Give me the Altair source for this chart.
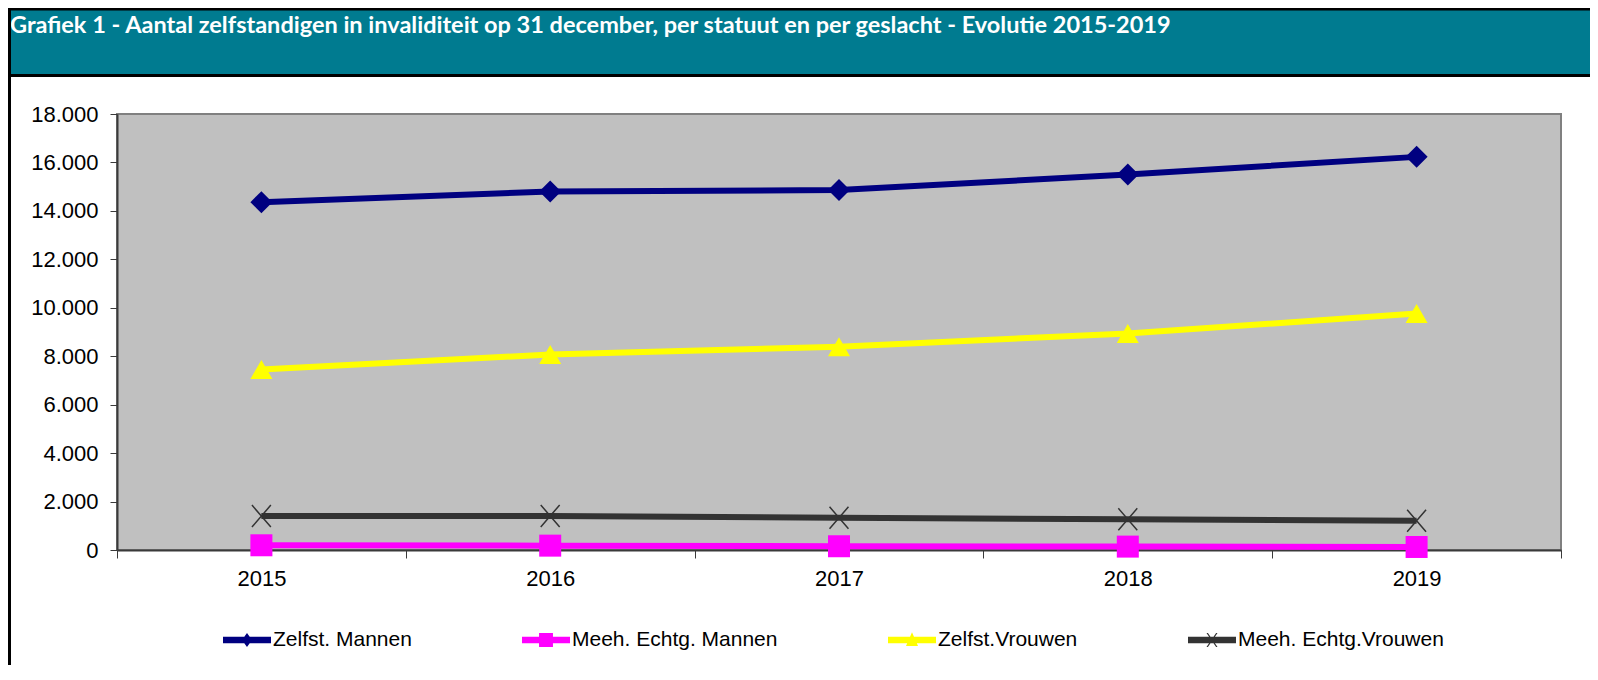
import altair as alt
import pandas as pd

TITLE = "Grafiek 1 - Aantal zelfstandigen in invaliditeit op 31 december, per statuut en per geslacht - Evolutie 2015-2019"
YEARS = ["2015", "2016", "2017", "2018", "2019"]
SERIES = ["Zelfst. Mannen", "Meeh. Echtg. Mannen", "Zelfst.Vrouwen", "Meeh. Echtg.Vrouwen"]
ZELFST_MANNEN = [14360, 14800, 14860, 15500, 16230]
MEEH_ECHTG_MANNEN = [195, 180, 155, 140, 125]
ZELFST_VROUWEN = [7450, 8070, 8390, 8940, 9760]
MEEH_ECHTG_VROUWEN = [1400, 1405, 1330, 1265, 1210]
Y_TICKS = [0, 2000, 4000, 6000, 8000, 10000, 12000, 14000, 16000, 18000]

COLORS = ["#000080", "#FF00FF", "#FFFF00", "#333333"]
X_PATH = "M-0.86,-1L0.86,1M-0.86,1L0.86,-1"
MARKERS = ["diamond", "square", "triangle-up", X_PATH]
MARKER_FILLED = [True, True, True, False]

BAR = "M-1,-0.135L1,-0.135L1,0.135L-1,0.135Z"
LEGEND_PATHS = [
    BAR + "M0,-0.29L0.21,0L0,0.29L-0.21,0Z",
    BAR + "M-0.29,-0.29L0.29,-0.29L0.29,0.29L-0.29,0.29Z",
    BAR + "M0,-0.32L0.25,0.25L-0.25,0.25Z",
    BAR + "M-0.23,-0.29L-0.17,-0.29L0.23,0.29L0.17,0.29Z"
          "M0.17,-0.29L0.23,-0.29L-0.17,0.29L-0.23,0.29Z",
]

TEAL = "#007B90"
FONT = "Liberation Sans"

values = [ZELFST_MANNEN, MEEH_ECHTG_MANNEN, ZELFST_VROUWEN, MEEH_ECHTG_VROUWEN]
df = pd.DataFrame(
    [{"year": y, "series": s, "value": v}
     for s, vals in zip(SERIES, values) for y, v in zip(YEARS, vals)]
)

x_enc = alt.X(
    "year:O",
    scale=alt.Scale(type="band", domain=YEARS, paddingInner=0, paddingOuter=0),
    axis=alt.Axis(
        title=None, labelAngle=0, tickBand="extent", tickSize=8, labelPadding=10,
        labelFont=FONT, labelFontSize=22, labelColor="black",
        domainColor="#3a3a3a", domainWidth=2, tickColor="#3a3a3a", tickWidth=1,
        grid=False,
    ),
)
y_enc = alt.Y(
    "value:Q",
    scale=alt.Scale(domain=[0, 18000], nice=False, zero=True),
    axis=alt.Axis(
        title=None, values=Y_TICKS,
        labelExpr="replace(format(datum.value, ','), ',', '.')",
        tickSize=7, labelPadding=12, labelFont=FONT, labelFontSize=22,
        labelColor="black", domainColor="#3a3a3a", domainWidth=2,
        tickColor="#3a3a3a", tickWidth=1, grid=False,
    ),
)

legend_def = alt.Legend(
    title=None, orient="none", legendX=106, legendY=502, direction="horizontal",
    symbolSize=2304, symbolOpacity=1, symbolStrokeWidth=0,
    labelFont=FONT, labelFontSize=21, labelColor="black", labelOffset=2,
    labelLimit=400, columnPadding=110, padding=0,
)

legend_layer = alt.Chart(df).mark_point(filled=True, opacity=0, size=10).encode(
    x=x_enc, y=y_enc,
    color=alt.Color("series:N", scale=alt.Scale(domain=SERIES, range=COLORS), legend=legend_def),
    shape=alt.Shape("series:N", scale=alt.Scale(domain=SERIES, range=LEGEND_PATHS), legend=legend_def),
)

one = pd.DataFrame({"t": [TITLE]})
header = alt.Chart(one).mark_rect(fill=TEAL, strokeWidth=0).encode(
    x=alt.value(-109), x2=alt.value(1490), y=alt.value(-104), y2=alt.value(-38.5)
)
top_line = alt.Chart(one).mark_rule(color="black", strokeWidth=3).encode(
    x=alt.value(-109), x2=alt.value(1490), y=alt.value(-105)
)
header_line = alt.Chart(one).mark_rule(color="black", strokeWidth=3).encode(
    x=alt.value(-109), x2=alt.value(1490), y=alt.value(-38.5)
)
header_text = alt.Chart(one).mark_text(
    align="left", baseline="alphabetic", font="Lato", fontWeight="bold",
    fontSize=23.5, color="white",
).encode(x=alt.value(-107), y=alt.value(-81), text="t:N")
left_border = alt.Chart(one).mark_rule(color="black", strokeWidth=3).encode(
    x=alt.value(-107.5), y=alt.value(-106), y2=alt.value(560)
)

layers = [header, top_line, header_line, header_text, left_border, legend_layer]
for s, c, m, f in zip(SERIES, COLORS, MARKERS, MARKER_FILLED):
    base = alt.Chart(df).transform_filter(alt.datum.series == s)
    layers.append(base.mark_line(color=c, strokeWidth=6).encode(x=x_enc, y=y_enc))
    if f:
        pts = base.mark_point(shape=m, filled=True, color=c, size=484, opacity=1)
    else:
        pts = base.mark_point(shape=m, filled=False, color=c, size=484, opacity=1, strokeWidth=1.5)
    layers.append(pts.encode(x=x_enc, y=y_enc))

chart = alt.layer(*layers).properties(
    width=1444, height=436,
    autosize=alt.AutoSizeParams(type="none"),
    padding={"left": 109, "top": 106, "right": 29, "bottom": 115},
    background="white",
).configure_view(fill="#C0C0C0", stroke="#808080", strokeWidth=2)

chart.save("out.html", embed_options={"renderer": "svg", "actions": False})
